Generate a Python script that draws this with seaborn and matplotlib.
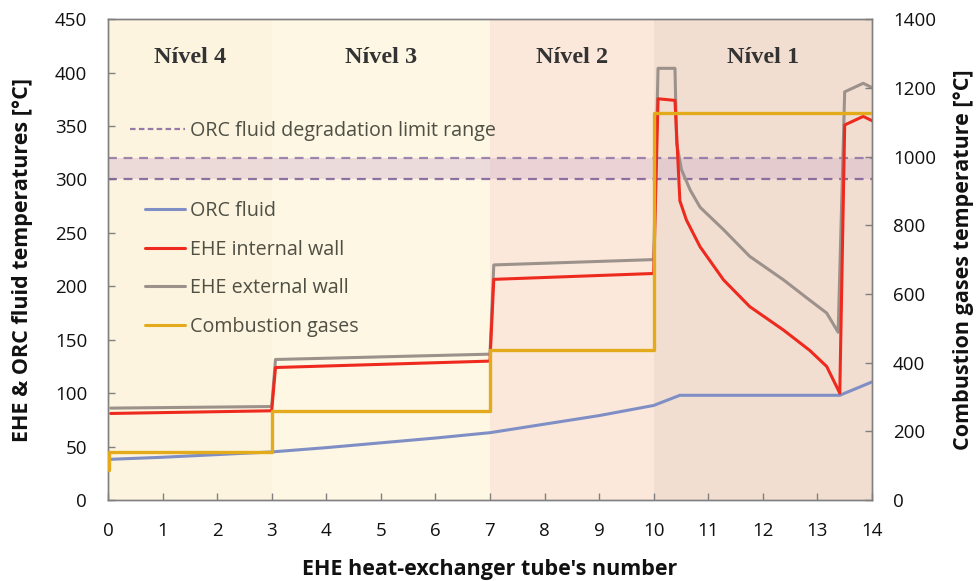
import matplotlib
matplotlib.use("Agg")
import matplotlib.pyplot as plt
import seaborn as sns
import pandas as pd
from matplotlib.lines import Line2D

# ---- data ----
orc_x = [0, 1, 2, 3, 4, 5, 6, 7, 8, 9, 10, 10.48, 13.41, 14]
orc_y = [38, 40, 42.5, 45, 49, 53.5, 58, 63, 71, 79, 88.5, 98, 98, 110.5]

int_x = [0.05, 3.0, 3.07, 7.0, 7.07, 10.0, 10.08, 10.39, 10.48, 10.6, 10.85, 11.28, 11.76,
         12.38, 12.86, 13.17, 13.41, 13.5, 13.84, 14.0]
int_y = [81, 83.5, 124, 130, 206.5, 212, 375.5, 374, 280, 262, 237, 206, 181,
         159, 140, 125, 100, 351, 359, 355]

ext_x = [0.05, 3.0, 3.07, 7.0, 7.07, 10.0, 10.08, 10.39, 10.42, 10.51, 10.67, 10.85, 11.28,
         11.76, 12.38, 12.86, 13.17, 13.38, 13.5, 13.84, 14.0]
ext_y = [86, 87.5, 131.5, 136.5, 220, 225, 404, 404, 334, 309, 290, 274, 253,
         228, 206, 187, 175, 157, 382, 390, 386]

gas_x = [0.02, 0.02, 3.0, 3.0, 7.0, 7.0, 10.0, 10.0, 14.0]
gas_y = [87, 141, 141, 259, 259, 436, 436, 1128, 1128]

levels = ["Nível 4", "Nível 3", "Nível 2", "Nível 1"]
level_bounds = [(0, 3), (3, 7), (7, 10), (10, 14)]
level_colors = ["#fcf4de", "#fdf7e4", "#fbe8db", "#f1ded1"]

limit_low, limit_high = 300, 320

c_orc, c_int, c_ext, c_gas = "#7f8fc6", "#ee2a1f", "#9c928b", "#e3ab1c"
c_lim = "#7d5b98"

sns.set_theme(style="white")
plt.rcParams["font.family"] = ["Open Sans", "DejaVu Sans"]

fig = plt.figure(figsize=(9.77, 5.81), dpi=100)
ax = fig.add_axes([0.1105, 0.1394, 0.7820, 0.8276])
ax2 = ax.twinx()

for (a, b), col in zip(level_bounds, level_colors):
    ax.axvspan(a, b, color=col, zorder=0, lw=0)
for (a, b), name in zip(level_bounds, levels):
    ax.text((a + b) / 2, 414, name, ha="center", va="center", fontsize=17.5,
            fontweight="bold", family="Liberation Serif", color="#333333")

ax.axhspan(limit_low, limit_high, color="#c9a7c9", alpha=0.33, lw=0, zorder=1)
ax.axhline(limit_high, color=c_lim, ls=(0, (4, 3)), lw=1.6, alpha=0.7, zorder=2)
ax.axhline(limit_low, color=c_lim, ls=(0, (4, 3)), lw=1.6, alpha=0.85, zorder=2)

df_orc = pd.DataFrame({"x": orc_x, "y": orc_y})
df_int = pd.DataFrame({"x": int_x, "y": int_y})
df_ext = pd.DataFrame({"x": ext_x, "y": ext_y})
df_gas = pd.DataFrame({"x": gas_x, "y": gas_y})

sns.lineplot(data=df_orc, x="x", y="y", ax=ax, sort=False, estimator=None, color=c_orc, lw=2.2, zorder=3)
sns.lineplot(data=df_ext, x="x", y="y", ax=ax, sort=False, estimator=None, color=c_ext, lw=2.2, zorder=3)
sns.lineplot(data=df_int, x="x", y="y", ax=ax, sort=False, estimator=None, color=c_int, lw=2.2, zorder=4)
sns.lineplot(data=df_gas, x="x", y="y", ax=ax2, sort=False, estimator=None, color=c_gas, lw=2.4, zorder=3)

ax.set_xlim(0, 14)
ax.set_ylim(0, 450)
ax2.set_ylim(0, 1400)
ax.set_xticks(range(0, 15))
ax.set_yticks(range(0, 451, 50))
ax2.set_yticks(range(0, 1401, 200))

lab_kw = dict(fontsize=15.5, fontweight="bold", color="#111111")
ax.set_xlabel("EHE heat-exchanger tube's number", **lab_kw)
ax.set_ylabel("EHE & ORC fluid temperatures [°C]", **lab_kw)
ax2.set_ylabel("Combustion gases temperature [°C]", **lab_kw)
ax.xaxis.set_label_coords(0.5, -0.122)
ax.yaxis.set_label_coords(-0.098, 0.5)
ax2.yaxis.set_label_coords(1.106, 0.5)

for a in (ax, ax2):
    for s in a.spines.values():
        s.set_color("#808080")
        s.set_linewidth(1.0)
ax.tick_params(axis="both", direction="in", length=5, width=1, color="#808080",
               labelsize=13.5, labelcolor="#111111")
ax.tick_params(axis="y", pad=15)
ax.tick_params(axis="x", pad=16)
ax2.tick_params(axis="y", direction="in", length=5, width=1, color="#808080",
                labelsize=13.5, labelcolor="#111111", pad=15)
ax.tick_params(left=True, bottom=True)
ax2.tick_params(right=True)
ax2.set_xlabel("")
ax.patch.set_visible(False)
ax2.patch.set_visible(False)
ax.set_zorder(1)
ax2.set_zorder(2)

# legends
leg_txt = "#4f4f44"
h_lim = [Line2D([], [], color=c_lim, ls=(0, (2.5, 1.5)), lw=1.6, alpha=0.8)]
leg1 = ax2.legend(h_lim, ["ORC fluid degradation limit range"], loc="upper left",
                  bbox_to_anchor=(0.0288, 0.789), borderaxespad=0, borderpad=0,
                  frameon=False, fontsize=14.2, handlelength=2.8, handletextpad=0.25,
                  labelcolor=leg_txt)
ax2.add_artist(leg1)
h = [Line2D([], [], color=c, lw=2.2) for c in (c_orc, c_int, c_ext, c_gas)]
ax2.legend(h, ["ORC fluid", "EHE internal wall", "EHE external wall", "Combustion gases"],
           loc="upper left", bbox_to_anchor=(0.048, 0.622), borderaxespad=0, borderpad=0,
           frameon=False, fontsize=14.2, handlelength=2.05, handletextpad=0.25,
           labelspacing=0.95, labelcolor=leg_txt)

fig.savefig("out.png", dpi=100)
